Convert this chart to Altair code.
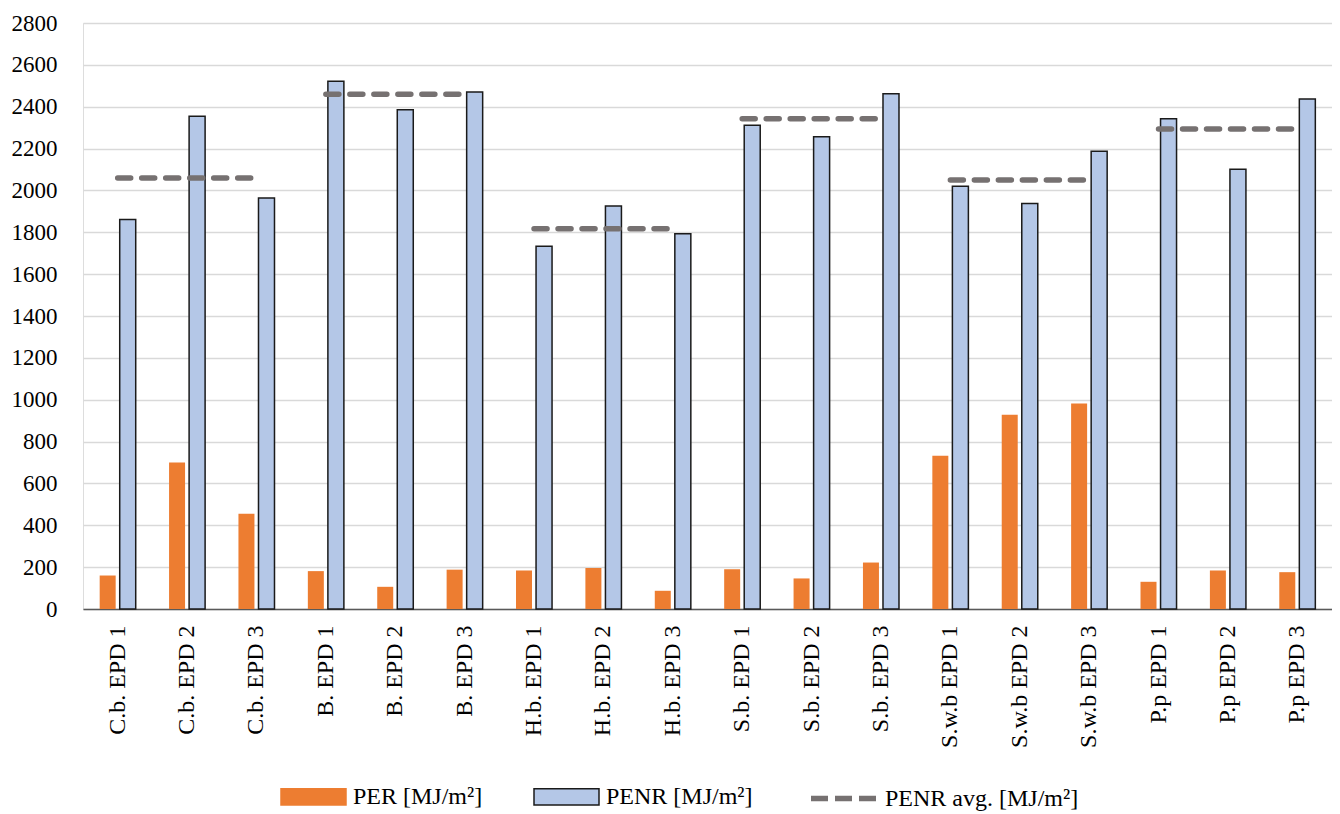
import altair as alt
import pandas as pd

categories = ["C.b. EPD 1", "C.b. EPD 2", "C.b. EPD 3",
              "B. EPD 1", "B. EPD 2", "B. EPD 3",
              "H.b. EPD 1", "H.b. EPD 2", "H.b. EPD 3",
              "S.b. EPD 1", "S.b. EPD 2", "S.b. EPD 3",
              "S.w.b EPD 1", "S.w.b EPD 2", "S.w.b EPD 3",
              "P.p EPD 1", "P.p EPD 2", "P.p EPD 3"]
category_group = ["C.b.", "C.b.", "C.b.", "B.", "B.", "B.",
                  "H.b.", "H.b.", "H.b.", "S.b.", "S.b.", "S.b.",
                  "S.w.b", "S.w.b", "S.w.b", "P.p", "P.p", "P.p"]
per_values = [160, 700, 455, 181, 106, 188, 184, 196, 87, 190, 146, 222,
              732, 928, 982, 130, 184, 176]
penr_values = [1861, 2354, 1964, 2522, 2386, 2470, 1733, 1926, 1793, 2312, 2256, 2462,
               2020, 1937, 2187, 2343, 2101, 2437]
groups = ["C.b.", "B.", "H.b.", "S.b.", "S.w.b", "P.p"]
penr_avg = [2059, 2459, 1817, 2343, 2050, 2294]

bar_series = ["PER [MJ/m²]", "PENR [MJ/m²]"]
bar_colors = ["#ED7D31", "#B4C7E7"]
bar_strokes = ["#ED7D31", "#1a1a1a"]
avg_series = ["PENR avg. [MJ/m²]"]
avg_color = ["#767171"]
y_ticks = list(range(0, 2801, 200))

FONT = "Liberation Serif"

bars = pd.DataFrame({
    "category": categories * 2,
    "series": [bar_series[0]] * len(categories) + [bar_series[1]] * len(categories),
    "value": per_values + penr_values,
})
avg_map = dict(zip(groups, penr_avg))
lines = pd.DataFrame({
    "category": categories,
    "group": category_group,
    "series": [avg_series[0]] * len(categories),
    "value": [avg_map[g] for g in category_group],
})

x_enc = alt.X(
    "category:N", sort=categories, title=None,
    scale=alt.Scale(paddingInner=0.48, paddingOuter=0.24),
    axis=alt.Axis(labelAngle=-90, labelFont=FONT, labelFontSize=24, labelColor="#000000",
                  labelPadding=16, ticks=False, domain=True, domainColor="#595959",
                  domainWidth=1.5, grid=False, labelLimit=300),
)
y_enc = alt.Y(
    "value:Q", title=None,
    scale=alt.Scale(domain=[0, 2800], nice=False),
    axis=alt.Axis(values=y_ticks, format="d", labelFont=FONT, labelFontSize=23,
                  labelColor="#000000", labelPadding=26, ticks=False, domain=False,
                  grid=True, gridColor="#D9D9D9", gridWidth=1.3),
)

RECT = "M-1,-0.25L1,-0.25L1,0.25L-1,0.25Z"
bar_legend = alt.Legend(
    title=None, orient="none", direction="horizontal", legendX=197, legendY=740,
    labelFont=FONT, labelFontSize=24, labelColor="#000000", labelOffset=6,
    columnPadding=48, symbolSize=4225, symbolType=RECT, symbolStrokeWidth=1.5,
    symbolOpacity=1, labelLimit=400,
)
line_legend = alt.Legend(
    title=None, orient="none", direction="horizontal", legendX=725, legendY=740,
    labelFont=FONT, labelFontSize=24, labelColor="#000000", labelOffset=6,
    symbolSize=4225, symbolType="stroke", symbolStrokeWidth=5.5, symbolDash=[17, 7],
    symbolOpacity=1, labelLimit=400,
)

bar_layer = alt.Chart(bars).mark_bar(size=16).encode(
    x=x_enc,
    xOffset=alt.XOffset("series:N", sort=bar_series,
                        scale=alt.Scale(paddingInner=0.2, paddingOuter=0)),
    y=y_enc,
    color=alt.Color("series:N", scale=alt.Scale(domain=bar_series, range=bar_colors),
                    legend=bar_legend),
    stroke=alt.Stroke("series:N", scale=alt.Scale(domain=bar_series, range=bar_strokes),
                      legend=bar_legend),
    strokeWidth=alt.StrokeWidth("series:N", scale=alt.Scale(domain=bar_series,
                                                            range=[0, 1.5]), legend=None),
)

line_layer = alt.Chart(lines).mark_line(
    strokeWidth=5.5, strokeDash=[13, 11], strokeCap="round"
).encode(
    x=alt.X("category:N", sort=categories),
    y=alt.Y("value:Q"),
    detail="group:N",
    color=alt.Color("series:N", scale=alt.Scale(domain=avg_series, range=avg_color),
                    legend=line_legend),
)

chart = alt.layer(bar_layer, line_layer).resolve_scale(
    color="independent", stroke="independent"
).resolve_legend(
    color="independent", stroke="independent"
).properties(
    width=1249, height=586,
    padding={"left": 75, "top": 15, "right": 0, "bottom": 204},
    autosize=alt.AutoSizeParams(type="none"),
).configure_view(stroke=None).configure(background="white")

chart.save("out.html", embed_options={"renderer": "svg", "actions": False})
